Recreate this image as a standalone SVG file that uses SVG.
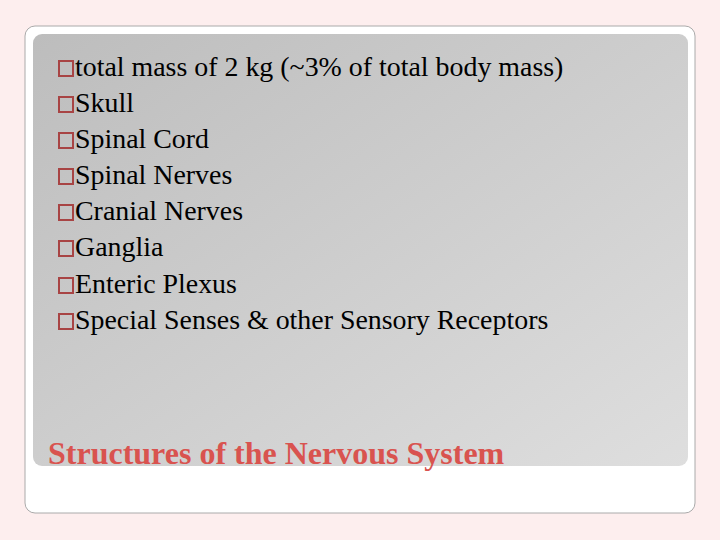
<svg xmlns="http://www.w3.org/2000/svg" width="720" height="540" viewBox="0 0 720 540">
<defs>
<linearGradient id="g" x1="0" y1="0" x2="1" y2="1">
<stop offset="0" stop-color="#bdbdbd"/><stop offset="1" stop-color="#dedede"/>
</linearGradient>
<style>
.t{font-family:"Liberation Serif",serif;font-size:27.9px;fill:#000}
.b{fill:none;stroke:#a84444;stroke-width:2}
.h{font-family:"Liberation Serif",serif;font-size:32px;font-weight:bold;fill:#d9534f}
</style>
</defs>
<rect width="720" height="540" fill="#fdeeee"/>
<g id="frame">
<rect x="25" y="26" width="670" height="487" rx="10" fill="#fff" stroke="#aaa" stroke-width="1"/>
<rect x="33" y="34" width="655" height="432" rx="9" fill="url(#g)"/>
</g>
<g id="bullets" class="t">
<text x="75" y="76">total mass of 2 kg (~3% of total body mass)</text>
<text x="75" y="112">Skull</text>
<text x="75" y="148">Spinal Cord</text>
<text x="75" y="184">Spinal Nerves</text>
<text x="75" y="220">Cranial Nerves</text>
<text x="75" y="256">Ganglia</text>
<text x="75" y="293">Enteric Plexus</text>
<text x="75" y="329">Special Senses &amp; other Sensory Receptors</text>
</g>
<g id="boxes">
<rect class="b" x="59" y="61" width="14" height="15"/>
<rect class="b" x="59" y="97" width="14" height="15"/>
<rect class="b" x="59" y="133" width="14" height="15"/>
<rect class="b" x="59" y="169" width="14" height="15"/>
<rect class="b" x="59" y="205" width="14" height="15"/>
<rect class="b" x="59" y="241" width="14" height="15"/>
<rect class="b" x="59" y="278" width="14" height="15"/>
<rect class="b" x="59" y="314" width="14" height="15"/>
</g>
<g id="title"><text class="h" x="48" y="464">Structures of the Nervous System</text></g>
</svg>
